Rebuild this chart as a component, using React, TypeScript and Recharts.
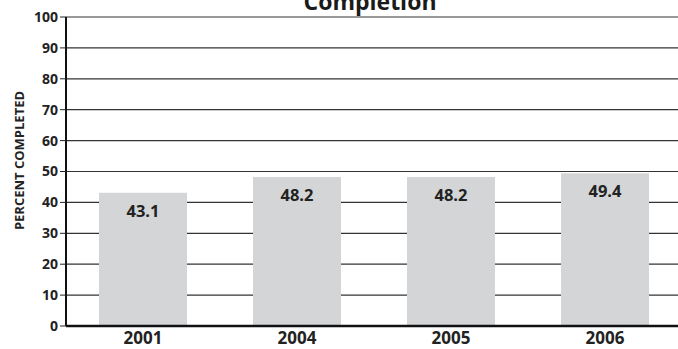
import { Bar, BarChart, CartesianGrid, LabelList, XAxis, YAxis } from "recharts";

const YEARS = ["2001", "2004", "2005", "2006"];
const PERCENT_COMPLETED = [43.1, 48.2, 48.2, 49.4];
const Y_TICKS = [0, 10, 20, 30, 40, 50, 60, 70, 80, 90, 100];

const FONT = "'Open Sans', 'DejaVu Sans', sans-serif";

const chartData = YEARS.map((year, i) => ({
  year,
  value: PERCENT_COMPLETED[i],
}));

export default function App() {
  return (
    <div
      style={{
        position: "absolute",
        left: 0,
        top: 0,
        width: 678,
        height: 349,
        background: "#fff",
        fontFamily: FONT,
        overflow: "hidden",
      }}
    >
      <div
        style={{
          position: "absolute",
          left: 370,
          top: -14,
          transform: "translateX(-50%)",
          fontSize: 23,
          fontWeight: 700,
          color: "#1a1a1a",
          whiteSpace: "nowrap",
          lineHeight: "30px",
        }}
      >
        Completion
      </div>
      <BarChart
        width={678}
        height={349}
        data={chartData}
        margin={{ top: 17, right: -4, bottom: 0, left: 28 }}
        barCategoryGap={0}
      >
        <CartesianGrid vertical={false} stroke="#333" strokeWidth={1.2} />
        <XAxis
          dataKey="year"
          height={23}
          tickLine={false}
          axisLine={{ stroke: "#111", strokeWidth: 2.5 }}
          tick={{ fontSize: 17, fontWeight: 700, fill: "#222", fontFamily: FONT }}
          tickMargin={0}
        />
        <YAxis
          width={38}
          domain={[0, 100]}
          ticks={Y_TICKS}
          interval={0}
          tickSize={6}
          tickLine={{ stroke: "#222" }}
          axisLine={{ stroke: "#111", strokeWidth: 2 }}
          tick={{ fontSize: 14, fontWeight: 700, fill: "#222", fontFamily: FONT }}
          tickMargin={2}
          label={{
            value: "PERCENT COMPLETED",
            angle: -90,
            position: "center",
            dx: -28,
            dy: -11,
            style: { fontSize: 13, fontWeight: 700, fill: "#222", fontFamily: FONT },
          }}
        />
        <Bar dataKey="value" fill="#d4d5d7" barSize={88} isAnimationActive={false}>
          <LabelList
            dataKey="value"
            position="insideTop"
            offset={12}
            formatter={(v: number) => v.toFixed(1)}
            style={{ fontSize: 16.5, fontWeight: 700, fill: "#222", fontFamily: FONT }}
          />
        </Bar>
      </BarChart>
    </div>
  );
}
